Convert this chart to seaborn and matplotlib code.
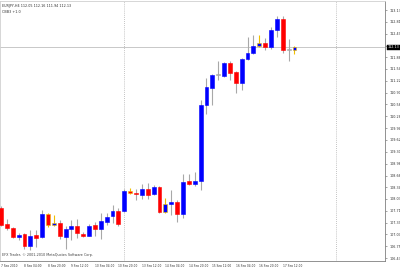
import matplotlib
matplotlib.use("Agg")
import matplotlib.pyplot as plt
import seaborn as sns
import numpy as np

# ---- data (EURJPY H4) ----
opens = [107.78, 107.35, 107.24, 107.00, 107.08, 106.76, 107.06, 107.00, 107.62, 107.33,
         107.38, 107.00, 107.22, 107.30, 107.08, 107.03, 107.33, 107.22, 107.41, 107.57,
         107.70, 107.70, 108.24, 108.19, 108.14, 108.30, 108.16, 108.35, 107.68, 107.89,
         107.95, 107.62, 108.51, 108.43, 108.51, 110.57, 111.02, 111.37, 111.35, 111.70,
         111.46, 111.16, 111.81, 111.97, 112.16, 112.24, 112.13, 112.59, 112.89, 112.05,
         112.05]
highs = [107.84, 107.49, 107.27, 107.11, 107.11, 107.19, 107.19, 107.73, 107.65, 107.60,
         107.46, 107.30, 107.46, 107.49, 107.14, 107.35, 107.41, 107.65, 107.65, 107.87,
         107.78, 108.30, 108.32, 108.30, 108.43, 108.46, 108.41, 108.38, 108.05, 108.27,
         108.00, 108.70, 108.70, 108.76, 110.70, 111.29, 111.40, 111.75, 111.73, 111.75,
         111.48, 111.83, 112.40, 112.46, 112.46, 112.37, 112.67, 112.97, 112.97, 112.35,
         112.16]
lows = [107.30, 107.19, 106.97, 106.92, 106.68, 106.65, 106.73, 106.97, 107.27, 107.30,
        106.95, 106.68, 106.92, 106.97, 107.00, 107.02, 107.03, 106.95, 107.33, 107.38,
        107.30, 107.68, 108.16, 108.00, 108.03, 108.03, 108.14, 107.65, 107.65, 107.60,
        107.41, 107.51, 108.41, 108.38, 108.27, 110.32, 110.57, 111.24, 111.32, 111.24,
        110.89, 110.97, 111.78, 111.94, 112.13, 112.05, 112.08, 112.40, 111.97, 111.75,
        111.94]
closes = [107.33, 107.24, 107.00, 107.06, 106.76, 107.03, 106.97, 107.62, 107.33, 107.38,
          107.03, 107.22, 107.30, 107.11, 107.03, 107.30, 107.22, 107.43, 107.54, 107.70,
          107.35, 108.24, 108.19, 108.16, 108.30, 108.14, 108.35, 107.68, 107.89, 107.95,
          107.62, 108.49, 108.43, 108.51, 110.57, 111.05, 111.38, 111.37, 111.70, 111.43,
          111.16, 111.81, 111.97, 112.16, 112.24, 112.13, 112.59, 112.89, 112.05, 112.05,
          112.13]
marked = [8, 9, 22, 28, 44, 50]          # candles flagged by the indicator
week_starts = [21, 57]                     # period separators (bar index)
tick_bars = [0, 4, 8, 12, 16, 20, 24, 28, 32, 36, 40, 44, 48]
tick_texts = ["7 Sep 2010", "8 Sep 04:00", "8 Sep 20:00", "9 Sep 12:00",
              "10 Sep 04:00", "10 Sep 20:00", "13 Sep 12:00", "14 Sep 04:00",
              "14 Sep 20:00", "15 Sep 12:00", "16 Sep 04:00", "16 Sep 20:00",
              "17 Sep 12:00"]
price_ticks = [106.43, 106.75, 107.07, 107.39, 107.71, 108.03, 108.34, 108.66,
               108.98, 109.30, 109.62, 109.94, 110.26, 110.58, 110.90, 111.22,
               111.54, 111.86, 112.17, 112.49, 112.81, 113.13]
header = "EURJPY,H4 112.05 112.16 111.94 112.13"
indicator = "CBB3 +1.0"
copyright_txt = "EFX Trader, \u00a9 2001-2010 MetaQuotes Software Corp."

sns.set_theme(style="white")
plt.rcParams["font.family"] = ["DejaVu Sans"]

W, H = 400, 267
fig = plt.figure(figsize=(W / 100, H / 100), dpi=100)
fig.patch.set_facecolor("white")
ax = fig.add_axes([0, (H - 261) / H, 385 / W, 260 / H])
ax.set_facecolor("white")

BLUE, RED, GREY, YEL = "#0000ff", "#ff0000", "#a8a8a8", "#f0c000"
n = len(opens)
idx = np.arange(n)
bw = 0.66
for i in idx:
    o, h, l, c = opens[i], highs[i], lows[i], closes[i]
    wc = YEL if i in marked else GREY
    ax.vlines(i, l, h, color=wc, lw=0.8, zorder=2)
    if c > o:
        col = BLUE
    elif c < o:
        col = RED
    else:
        col = GREY
    lo, hi = min(o, c), max(o, c)
    ht = max(hi - lo, 0.03)
    ec = YEL if i in marked else col
    ax.bar(i, ht, bottom=lo, width=bw, color=col, edgecolor=ec, lw=0.4, zorder=3)

for w in week_starts:
    ax.axvline(w, color="#b0b0b0", lw=0.6, ls=(0, (1, 1.5)), zorder=1)
last = closes[-1]
ax.axhline(last, color="#c8c8c8", lw=0.7, zorder=1)

ax.set_xlim(-0.17, 65.42)
ax.set_ylim(106.353, 113.373)

ax.yaxis.tick_right()
ax.set_yticks(price_ticks)
# the tick hidden behind the current-price box gets no label
ylabels = ["" if abs(p - last) < 0.12 else f"{p:.2f}" for p in price_ticks]
ax.set_yticklabels(ylabels, fontsize=2.4)
ax.tick_params(axis="y", length=1.5, width=0.4, pad=1.5, colors="#606060", labelcolor="#303030")
ax.set_xticks(tick_bars)
ax.set_xticklabels(tick_texts, fontsize=2.05, ha="left")
ax.tick_params(axis="x", length=1.5, width=0.4, pad=0.6, colors="#606060", labelcolor="#303030")

for s in ["top", "left"]:
    ax.spines[s].set_color("#d0d0d0")
    ax.spines[s].set_linewidth(0.6)
for s in ["right", "bottom"]:
    ax.spines[s].set_color("#808080")
    ax.spines[s].set_linewidth(0.6)

# current price label
ax.text(1.006, last, f"{last:.2f}", transform=ax.get_yaxis_transform(),
        fontsize=2.4, color="white", va="center", ha="left",
        bbox=dict(boxstyle="square,pad=0.15", fc="black", ec="black", lw=0.3),
        clip_on=False, zorder=10)

fig.text(2 / W, 1 - 6 / H, header, fontsize=2.4, color="#303030", va="center", ha="left")
fig.text(2 / W, 1 - 12 / H, indicator, fontsize=2.4, color="#303030", va="center", ha="left")
fig.text(2 / W, 1 - 255 / H, copyright_txt, fontsize=2.4, color="#404040", va="center", ha="left")

fig.savefig("out.png", dpi=100, facecolor="white")
